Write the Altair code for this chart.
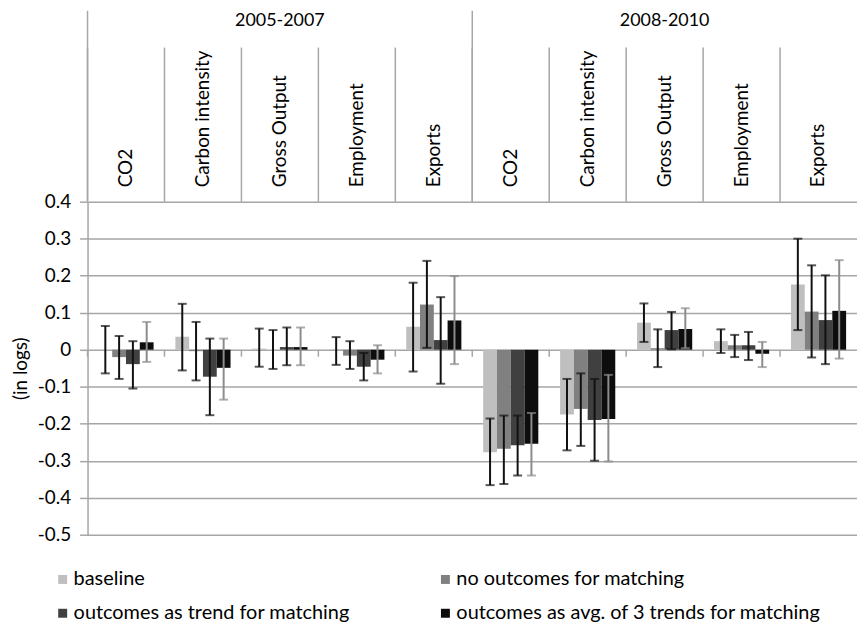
import altair as alt
import pandas as pd

periods = ["2005-2007", "2008-2010"]
outcomes = ["CO2", "Carbon intensity", "Gross Output", "Employment", "Exports"]
series = [
    "baseline",
    "no outcomes for matching",
    "outcomes as trend for matching",
    "outcomes as avg. of 3 trends for matching",
]
bar_colors = ["#BFBFBF", "#808080", "#404040", "#0D0D0D"]
err_colors = ["#111111", "#111111", "#111111", "#8C8C8C"]

# point estimates, per series, 10 cells (period x outcome)
baseline = [0.000, 0.035, 0.003, 0.002, 0.062, -0.277, -0.175, 0.073, 0.023, 0.176]
no_outcomes = [-0.020, -0.004, 0.000, -0.016, 0.122, -0.268, -0.160, 0.004, 0.012, 0.103]
trend = [-0.039, -0.073, 0.007, -0.046, 0.026, -0.258, -0.190, 0.053, 0.012, 0.080]
avg3 = [0.020, -0.049, 0.007, -0.027, 0.079, -0.254, -0.187, 0.056, -0.011, 0.105]

# confidence bounds
baseline_lo = [-0.064, -0.056, -0.046, -0.041, -0.059, -0.366, -0.272, 0.021, -0.009, 0.053]
baseline_hi = [0.064, 0.124, 0.057, 0.034, 0.181, -0.186, -0.079, 0.125, 0.055, 0.300]
no_outcomes_lo = [-0.079, -0.083, -0.052, -0.052, 0.005, -0.363, -0.260, -0.047, -0.020, -0.021]
no_outcomes_hi = [0.037, 0.075, 0.053, 0.023, 0.240, -0.178, -0.064, 0.055, 0.040, 0.228]
trend_lo = [-0.105, -0.177, -0.042, -0.083, -0.092, -0.340, -0.300, 0.001, -0.028, -0.039]
trend_hi = [0.023, 0.030, 0.060, -0.009, 0.142, -0.178, -0.079, 0.102, 0.048, 0.201]
avg3_lo = [-0.033, -0.135, -0.042, -0.064, -0.039, -0.340, -0.302, 0.004, -0.047, -0.024]
avg3_hi = [0.075, 0.030, 0.060, 0.012, 0.199, -0.171, -0.068, 0.112, 0.021, 0.242]

y_ticks = [-0.5, -0.4, -0.3, -0.2, -0.1, 0, 0.1, 0.2, 0.3, 0.4]

FONT = "Lato"
W, H = 774, 335
GRID = "#A6A6A6"

values = [baseline, no_outcomes, trend, avg3]
los = [baseline_lo, no_outcomes_lo, trend_lo, avg3_lo]
his = [baseline_hi, no_outcomes_hi, trend_hi, avg3_hi]

keys = [f"{p}|{o}" for p in periods for o in outcomes]

rows = []
for si, s in enumerate(series):
    for ki, k in enumerate(keys):
        rows.append(dict(key=k, series=s, value=values[si][ki], lo=los[si][ki],
                         hi=his[si][ki], ecolor=err_colors[si]))
df = pd.DataFrame(rows)

x_scale = alt.Scale(domain=keys, paddingInner=0, paddingOuter=0)
x_enc = alt.X("key:N", scale=x_scale,
              axis=alt.Axis(orient="top", labelAngle=270, labelAlign="left",
                            labelBaseline="middle",
                            labelExpr="split(datum.label, '|')[1]",
                            domain=False, ticks=False, grid=False,
                            labelPadding=15, labelFontSize=19, labelColor="#000",
                            labelFont=FONT, title=None, labelOverlap=False,
                            labelLimit=0))
xoff = alt.XOffset("series:N", scale=alt.Scale(domain=series, paddingInner=0, paddingOuter=0.79))
y_scale = alt.Scale(domain=[-0.5, 0.4], nice=False, zero=False)
y_axis = alt.Axis(values=y_ticks,
                  labelExpr="datum.value == 0 ? '0' : replace(format(datum.value, '.1f'), '\u2212', '-')",
                  title="(in logs)", titleFontWeight="normal", titleFontSize=19,
                  titleFont=FONT, titleColor="#000", titlePadding=7,
                  labelFontSize=19, labelFont=FONT, labelColor="#000",
                  labelPadding=9, labelOverlap=False,
                  grid=True, gridColor=GRID, gridWidth=1.5,
                  tickColor=GRID, tickSize=8, tickWidth=1.5,
                  domainColor=GRID, domainWidth=1.5)

bars = alt.Chart(df).mark_bar().encode(
    x=x_enc,
    xOffset=xoff,
    y=alt.Y("value:Q", scale=y_scale, axis=y_axis),
    y2=alt.datum(0),
    color=alt.Color("series:N", scale=alt.Scale(domain=series, range=bar_colors),
                    legend=alt.Legend(orient="none", legendX=-35, legendY=370,
                                      columns=2, columnPadding=86, rowPadding=14,
                                      symbolType="square", symbolSize=81,
                                      symbolStrokeWidth=0, labelFontSize=20,
                                      labelOffset=1,
                                      labelFont=FONT, labelColor="#000",
                                      labelLimit=0, title=None, direction="horizontal")),
)

err = alt.Chart(df).mark_rule(strokeWidth=2).encode(
    x=alt.X("key:N", scale=x_scale),
    xOffset=xoff,
    y=alt.Y("lo:Q", scale=y_scale, axis=y_axis),
    y2="hi:Q",
    stroke=alt.Stroke("ecolor:N", scale=None),
)
cap_lo = alt.Chart(df).mark_tick(size=9, thickness=2).encode(
    x=alt.X("key:N", scale=x_scale),
    xOffset=xoff,
    y=alt.Y("lo:Q", scale=y_scale, axis=y_axis),
    fill=alt.Fill("ecolor:N", scale=None),
)
cap_hi = alt.Chart(df).mark_tick(size=9, thickness=2).encode(
    x=alt.X("key:N", scale=x_scale),
    xOffset=xoff,
    y=alt.Y("hi:Q", scale=y_scale, axis=y_axis),
    fill=alt.Fill("ecolor:N", scale=None),
)

sep_df = pd.DataFrame({"key": keys})
group_df = pd.DataFrame({"key": [keys[i * 5] for i in range(len(periods))]})
label_df = pd.DataFrame({"key": [keys[i * 5 + 2] for i in range(len(periods))], "period": periods})

cat_sep = alt.Chart(sep_df).mark_rule(color=GRID, strokeWidth=1.5).encode(
    x=alt.X("key:N", scale=x_scale, bandPosition=0),
    y=alt.value(-155), y2=alt.value(0),
)
grp_sep = alt.Chart(group_df).mark_rule(color=GRID, strokeWidth=1.5).encode(
    x=alt.X("key:N", scale=x_scale, bandPosition=0),
    y=alt.value(-192), y2=alt.value(0),
)
zero_df = pd.DataFrame({"key": keys, "z0": [0] * len(keys), "z1": [-0.019] * len(keys)})
zero_ticks = alt.Chart(zero_df).mark_rule(color=GRID, strokeWidth=1.5).encode(
    x=alt.X("key:N", scale=x_scale, bandPosition=0),
    y=alt.Y("z0:Q", scale=y_scale, axis=y_axis), y2="z1:Q",
)
grp_text = alt.Chart(label_df).mark_text(fontSize=18, font=FONT, color="#000",
                                          baseline="middle").encode(
    x=alt.X("key:N", scale=x_scale, bandPosition=0.5),
    y=alt.value(-182),
    text="period:N",
)

chart = alt.layer(bars, cat_sep, grp_sep, zero_ticks, err, cap_lo, cap_hi, grp_text).properties(
    width=W, height=H, background="white",
    padding={"left": 3, "top": 0, "right": 0, "bottom": 0},
).configure_view(stroke=None)

chart.save("out.html", embed_options={"renderer": "svg", "actions": False})
